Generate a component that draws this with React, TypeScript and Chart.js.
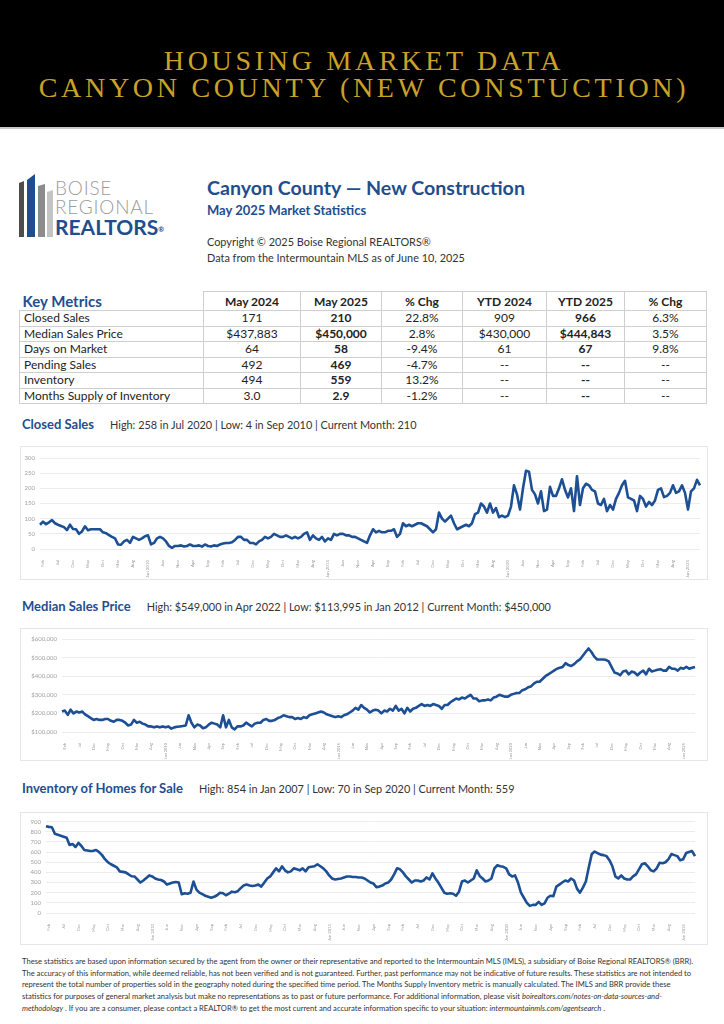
import React, { useEffect, useRef } from "react";
import { Chart, registerables } from "chart.js";

Chart.register(...registerables);

// ---------- DATA ----------
const MONTH_NAMES = ["Jan", "Feb", "Mar", "Apr", "May", "Jun", "Jul", "Aug", "Sep", "Oct", "Nov", "Dec"];
const START_YEAR = 2007;
const END_YEAR = 2025;
const END_MONTH_INDEX = 4; // May 2025
const LABEL_EVERY = 5;
const LABEL_OFFSET = 1; // first label is Feb 2007

const monthLabels: string[] = [];
for (let y = START_YEAR; y <= END_YEAR; y++) {
  for (let m = 0; m < 12; m++) {
    if (y === END_YEAR && m > END_MONTH_INDEX) break;
    monthLabels.push(m === 0 ? `Jan ${y}` : MONTH_NAMES[m]);
  }
}

// Closed Sales, Jan 2007 - May 2025
const closedSales = [
  80, 90, 82, 88, 95, 85, 80, 76, 72, 62, 80, 66, // 2007
  65, 50, 58, 75, 62, 65, 65, 65, 65, 55, 52, 46, // 2008
  40, 35, 15, 14, 25, 30, 20, 40, 35, 30, 35, 42, // 2009
  45, 15, 20, 35, 40, 35, 25, 10, 4, 10, 10, 12, // 2010
  8, 10, 15, 10, 10, 12, 8, 15, 10, 8, 12, 10, // 2011
  15, 18, 20, 20, 22, 30, 40, 40, 30, 30, 20, 20, // 2012
  15, 25, 30, 40, 35, 40, 50, 45, 40, 40, 45, 40, // 2013
  35, 40, 35, 40, 50, 55, 30, 45, 35, 30, 40, 25, // 2014
  35, 30, 50, 45, 50, 50, 45, 45, 40, 40, 35, 30, // 2015
  25, 20, 45, 65, 55, 60, 55, 55, 60, 60, 65, 40, // 2016
  50, 85, 75, 80, 75, 80, 85, 85, 80, 75, 65, 55, // 2017
  65, 120, 100, 90, 100, 110, 85, 65, 70, 75, 80, 75, // 2018
  85, 115, 120, 150, 140, 120, 150, 120, 135, 105, 110, 105, // 2019
  110, 140, 210, 180, 130, 200, 258, 255, 195, 180, 150, 190, // 2020
  125, 130, 205, 175, 175, 200, 230, 195, 170, 200, 125, 240, // 2021
  145, 200, 215, 210, 195, 190, 150, 145, 165, 125, 145, 130, // 2022
  165, 185, 210, 225, 170, 165, 160, 125, 175, 165, 140, 155, // 2023
  145, 160, 195, 200, 171, 175, 185, 210, 185, 190, 210, 185, // 2024
  130, 190, 200, 228, 210, // 2025
];

// Median Sales Price (in $), Jan 2007 - May 2025
const medianPrice = [
  210000, 215000, 192000, 220000, 200000, 210000, 205000, 210000, 195000, 185000, 175000, 165000, // 2007
  170000, 165000, 165000, 170000, 170000, 160000, 155000, 165000, 165000, 160000, 150000, 135000, // 2008
  140000, 165000, 150000, 155000, 145000, 140000, 130000, 130000, 125000, 130000, 125000, 130000, // 2009
  125000, 130000, 118000, 125000, 128000, 130000, 132000, 135000, 190000, 150000, 125000, 140000, // 2010
  135000, 120000, 125000, 140000, 150000, 145000, 140000, 125000, 190000, 125000, 165000, 125000, // 2011
  113995, 130000, 130000, 135000, 150000, 140000, 130000, 145000, 150000, 150000, 165000, 170000, // 2012
  160000, 160000, 165000, 175000, 180000, 190000, 185000, 180000, 180000, 170000, 175000, 170000, // 2013
  180000, 175000, 190000, 195000, 200000, 205000, 210000, 205000, 195000, 190000, 185000, 180000, // 2014
  185000, 180000, 190000, 195000, 205000, 215000, 230000, 220000, 245000, 230000, 220000, 205000, // 2015
  215000, 220000, 215000, 200000, 215000, 210000, 225000, 215000, 240000, 215000, 225000, 200000, // 2016
  230000, 210000, 225000, 230000, 240000, 250000, 240000, 245000, 240000, 250000, 245000, 240000, // 2017
  225000, 245000, 245000, 260000, 270000, 280000, 275000, 285000, 280000, 290000, 300000, 280000, // 2018
  280000, 265000, 270000, 270000, 275000, 270000, 285000, 290000, 300000, 295000, 290000, 290000, // 2019
  300000, 305000, 310000, 310000, 325000, 330000, 340000, 345000, 360000, 370000, 370000, 385000, // 2020
  400000, 410000, 420000, 430000, 440000, 445000, 450000, 470000, 460000, 455000, 465000, 480000, // 2021
  490000, 510000, 530000, 549000, 530000, 505000, 490000, 490000, 490000, 488000, 480000, 450000, // 2022
  420000, 415000, 405000, 425000, 430000, 410000, 425000, 420000, 405000, 420000, 430000, 410000, // 2023
  440000, 425000, 430000, 435000, 437883, 430000, 430000, 450000, 440000, 440000, 430000, 445000, // 2024
  440000, 450000, 440000, 445000, 450000, // 2025
];

// Inventory of Homes for Sale, Jan 2007 - May 2025
const inventory = [
  854, 848, 845, 780, 770, 760, 750, 740, 670, 680, 650, 690, // 2007
  660, 620, 615, 610, 612, 620, 600, 570, 530, 500, 480, 465, // 2008
  450, 410, 405, 400, 380, 362, 360, 330, 300, 320, 345, 370, // 2009
  360, 340, 330, 325, 310, 280, 290, 300, 305, 300, 185, 195, // 2010
  190, 200, 310, 230, 200, 185, 170, 160, 150, 160, 175, 200, // 2011
  195, 175, 190, 210, 205, 215, 245, 270, 280, 270, 265, 270, // 2012
  280, 260, 300, 340, 360, 400, 440, 410, 460, 420, 400, 410, // 2013
  440, 430, 420, 440, 410, 450, 455, 460, 480, 460, 440, 410, // 2014
  370, 340, 330, 335, 340, 350, 360, 360, 355, 355, 350, 350, // 2015
  340, 320, 300, 290, 255, 260, 270, 290, 300, 330, 380, 440, // 2016
  430, 400, 360, 330, 300, 320, 320, 310, 320, 350, 330, 390, // 2017
  340, 300, 250, 200, 190, 195, 190, 170, 210, 310, 320, 300, // 2018
  320, 340, 420, 365, 340, 310, 320, 340, 440, 470, 460, 455, // 2019
  440, 380, 360, 370, 300, 200, 150, 100, 70, 80, 80, 110, // 2020
  80, 95, 150, 170, 165, 260, 280, 300, 320, 310, 340, 320, // 2021
  240, 200, 250, 310, 450, 580, 605, 590, 575, 570, 560, 520, // 2022
  460, 360, 340, 370, 340, 330, 330, 360, 380, 430, 480, 490, // 2023
  460, 420, 410, 440, 494, 490, 500, 530, 580, 570, 560, 520, // 2024
  530, 590, 600, 610, 559, // 2025
];

// Key metrics table
const tableHeaders = ["May 2024", "May 2025", "% Chg", "YTD 2024", "YTD 2025", "% Chg"];
const metricNames = ["Closed Sales", "Median Sales Price", "Days on Market", "Pending Sales", "Inventory", "Months Supply of Inventory"];
const may2024 = ["171", "$437,883", "64", "492", "494", "3.0"];
const may2025 = ["210", "$450,000", "58", "469", "559", "2.9"];
const monthPctChg = ["22.8%", "2.8%", "-9.4%", "-4.7%", "13.2%", "-1.2%"];
const ytd2024 = ["909", "$430,000", "61", "--", "--", "--"];
const ytd2025 = ["966", "$444,843", "67", "--", "--", "--"];
const ytdPctChg = ["6.3%", "3.5%", "9.8%", "--", "--", "--"];

// Chart headings
const closedStats = "High: 258 in Jul 2020 | Low: 4 in Sep 2010 | Current Month: 210";
const priceStats = "High: $549,000 in Apr 2022 | Low: $113,995 in Jan 2012 | Current Month: $450,000";
const inventoryStats = "High: 854 in Jan 2007 | Low: 70 in Sep 2020 | Current Month: 559";

// ---------- STYLE CONSTANTS ----------
const BLUE = "#1f4e8f";
const LINE_BLUE = "#1c4f94";
const FONT = "Lato, 'Open Sans', sans-serif";

type LineChartProps = {
  width: number;
  height: number;
  data: number[];
  min: number;
  max: number;
  step: number;
  fmt: (v: number) => string;
  padTop: number;
  padRight: number;
  yWidth: number;
  xHeight: number;
  xFont: number;
};

function LineChart({ width, height, data, min, max, step, fmt, padTop, padRight, yWidth, xHeight, xFont }: LineChartProps) {
  const ref = useRef<HTMLCanvasElement | null>(null);
  useEffect(() => {
    if (!ref.current) return;
    const chart = new Chart(ref.current, {
      type: "line",
      data: {
        labels: monthLabels,
        datasets: [
          {
            data,
            borderColor: LINE_BLUE,
            borderWidth: 2.6,
            pointRadius: 0,
            tension: 0,
            fill: false,
            borderJoinStyle: "round",
          },
        ],
      },
      options: {
        animation: false,
        responsive: false,
        layout: { padding: { top: padTop, right: padRight, bottom: 0, left: 0 } },
        plugins: { legend: { display: false }, tooltip: { enabled: false } },
        scales: {
          x: {
            grid: { display: false },
            border: { display: false },
            afterFit: (s: any) => {
              s.height = xHeight;
            },
            ticks: {
              autoSkip: false,
              maxRotation: 90,
              minRotation: 90,
              padding: 3,
              color: "#9a9a9a",
              font: { size: xFont, family: FONT },
              callback: (_v: any, i: number) => (i % LABEL_EVERY === LABEL_OFFSET ? monthLabels[i] : null),
            },
          },
          y: {
            min,
            max,
            border: { display: false },
            grid: { color: "#ececec", drawTicks: false },
            afterFit: (s: any) => {
              s.width = yWidth;
            },
            ticks: {
              stepSize: step,
              autoSkip: false,
              padding: 5,
              color: "#a0a0a0",
              font: { size: 6, family: FONT },
              callback: (v: any) => fmt(Number(v)),
            },
          },
        },
      },
    });
    return () => chart.destroy();
  }, []);
  return <canvas ref={ref} width={width} height={height} style={{ width, height, display: "block" }} />;
}

function ChartSection(props: {
  top: number;
  title: string;
  stats: string;
  boxTop: number;
  boxHeight: number;
  chart: Omit<LineChartProps, "width" | "height">;
}) {
  const boxW = 688;
  return (
    <>
      <div
        style={{
          position: "absolute",
          left: 22,
          top: props.top,
          height: 18,
          display: "flex",
          alignItems: "baseline",
          gap: 16,
          whiteSpace: "nowrap",
        }}
      >
        <span style={{ color: BLUE, fontWeight: 700, fontSize: 13 }}>{props.title}</span>
        <span style={{ color: "#333", fontSize: 10.9 }}>{props.stats}</span>
      </div>
      <div
        style={{
          position: "absolute",
          left: 20,
          top: props.boxTop,
          width: boxW,
          height: props.boxHeight,
          border: "1px solid #e6e6e6",
          boxSizing: "border-box",
        }}
      >
        <LineChart width={boxW - 2} height={props.boxHeight - 2} {...props.chart} />
      </div>
    </>
  );
}

const fmtInt = (v: number) => String(v);
const fmtMoney = (v: number) => "$" + v.toLocaleString("en-US");

export default function App() {
  const cellBorder = "1px solid #cfcfcf";
  const colWidths = [184, 97, 81, 81, 84, 78, 82];
  const td: React.CSSProperties = { border: cellBorder, textAlign: "center", padding: 0, lineHeight: "14px" };
  return (
    <div
      style={{
        position: "absolute",
        left: 0,
        top: 0,
        width: 724,
        height: 1024,
        overflow: "hidden",
        background: "#fff",
        fontFamily: FONT,
      }}
    >
      {/* Header band */}
      <div
        style={{
          position: "absolute",
          left: 0,
          top: 0,
          width: 724,
          height: 127,
          background: "#000",
          borderBottom: "2px solid #c8c8c8",
        }}
      >
        <div
          style={{
            position: "absolute",
            left: 0,
            top: 48,
            width: 728,
            textAlign: "center",
            color: "#c9a227",
            fontFamily: "'Liberation Serif', 'DejaVu Serif', serif",
            fontSize: 28,
            letterSpacing: 3.7,
            lineHeight: "26.6px",
          }}
        >
          HOUSING MARKET DATA
          <br />
          CANYON COUNTY (NEW CONSTUCTION)
        </div>
      </div>

      {/* Logo */}
      <svg style={{ position: "absolute", left: 17, top: 174 }} width={40} height={66}>
        <polygon points="2,9 7,7 7,63 2,63" fill="#4d4d4d" />
        <polygon points="10,6 18,0 18,63 10,63" fill="#1f4e8f" />
        <polygon points="21,12 28,10 28,63 21,63" fill="#8c8c8c" />
        <polygon points="30,18 36,16 36,63 30,63" fill="#c4c4c4" />
      </svg>
      <div style={{ position: "absolute", left: 55, top: 178, lineHeight: "19px", whiteSpace: "nowrap" }}>
        <div style={{ color: "#9b9b9b", fontSize: 19, letterSpacing: 0.8, fontWeight: 300 }}>BOISE</div>
        <div style={{ color: "#9b9b9b", fontSize: 19, letterSpacing: 0.8, fontWeight: 300 }}>REGIONAL</div>
        <div style={{ color: BLUE, fontSize: 21, fontWeight: 700, lineHeight: "22px" }}>
          REALTORS<sup style={{ fontSize: 7, verticalAlign: "top", position: "relative", top: 2 }}>®</sup>
        </div>
      </div>

      {/* Title block */}
      <div style={{ position: "absolute", left: 207, top: 176, whiteSpace: "nowrap" }}>
        <div style={{ color: BLUE, fontSize: 19.6, fontWeight: 700, lineHeight: "23px" }}>
          Canyon County — New Construction
        </div>
        <div style={{ color: BLUE, fontSize: 13, fontWeight: 700, lineHeight: "16px", marginTop: 3 }}>
          May 2025 Market Statistics
        </div>
        <div style={{ color: "#333", fontSize: 10.9, lineHeight: "15.5px", marginTop: 16 }}>
          Copyright © 2025 Boise Regional REALTORS®
          <br />
          Data from the Intermountain MLS as of June 10, 2025
        </div>
      </div>

      {/* Key metrics table */}
      <table
        style={{
          position: "absolute",
          left: 19,
          top: 291,
          borderCollapse: "collapse",
          tableLayout: "fixed",
          width: colWidths.reduce((a, b) => a + b, 0),
          fontSize: 12,
          color: "#222",
        }}
      >
        <colgroup>
          {colWidths.map((w, i) => (
            <col key={i} style={{ width: w }} />
          ))}
        </colgroup>
        <thead>
          <tr style={{ height: 19 }}>
            <th
              style={{
                textAlign: "left",
                color: BLUE,
                fontSize: 15,
                fontWeight: 700,
                padding: "0 3px",
                borderBottom: cellBorder,
              }}
            >
              Key Metrics
            </th>
            {tableHeaders.map((h, i) => (
              <th key={i} style={{ border: cellBorder, fontSize: 12, fontWeight: 700, padding: 0 }}>
                {h}
              </th>
            ))}
          </tr>
        </thead>
        <tbody>
          {metricNames.map((name, r) => (
            <tr key={r} style={{ height: 15.5 }}>
              <td style={{ ...td, textAlign: "left", padding: "0 4px", whiteSpace: "nowrap" }}>{name}</td>
              <td style={td}>{may2024[r]}</td>
              <td style={{ ...td, fontWeight: 700 }}>{may2025[r]}</td>
              <td style={td}>{monthPctChg[r]}</td>
              <td style={td}>{ytd2024[r]}</td>
              <td style={{ ...td, fontWeight: 700 }}>{ytd2025[r]}</td>
              <td style={td}>{ytdPctChg[r]}</td>
            </tr>
          ))}
        </tbody>
      </table>

      <ChartSection
        top={416}
        title="Closed Sales"
        stats={closedStats}
        boxTop={446}
        boxHeight={134}
        chart={{ data: closedSales, min: 0, max: 300, step: 50, fmt: fmtInt, padTop: 11, padRight: 7, yWidth: 19, xHeight: 30, xFont: 4.4 }}
      />
      <ChartSection
        top={598}
        title="Median Sales Price"
        stats={priceStats}
        boxTop={628}
        boxHeight={133}
        chart={{ data: medianPrice, min: 100000, max: 600000, step: 100000, fmt: fmtMoney, padTop: 10, padRight: 12, yWidth: 41, xHeight: 28, xFont: 4 }}
      />
      <ChartSection
        top={780}
        title="Inventory of Homes for Sale"
        stats={inventoryStats}
        boxTop={812}
        boxHeight={133}
        chart={{ data: inventory, min: 0, max: 900, step: 100, fmt: fmtInt, padTop: 8, padRight: 12, yWidth: 25, xHeight: 31, xFont: 4.2 }}
      />

      {/* Footer disclaimer */}
      <div
        style={{
          position: "absolute",
          left: 22,
          top: 956,
          width: 700,
          fontSize: 7.6,
          lineHeight: "11.7px",
          color: "#333",
          whiteSpace: "nowrap",
        }}
      >
        These statistics are based upon information secured by the agent from the owner or their representative and reported to the Intermountain MLS (IMLS), a subsidiary of Boise Regional REALTORS® (BRR).
        <br />
        The accuracy of this information, while deemed reliable, has not been verified and is not guaranteed. Further, past performance may not be indicative of future results. These statistics are not intended to
        <br />
        represent the total number of properties sold in the geography noted during the specified time period. The Months Supply Inventory metric is manually calculated. The IMLS and BRR provide these
        <br />
        statistics for purposes of general market analysis but make no representations as to past or future performance. For additional information, please visit{" "}
        <i>boirealtors.com/notes-on-data-sources-and-</i>
        <br />
        <i>methodology</i> . If you are a consumer, please contact a REALTOR® to get the most current and accurate information specific to your situation: <i>intermountainmls.com/agentsearch</i> .
      </div>
    </div>
  );
}
